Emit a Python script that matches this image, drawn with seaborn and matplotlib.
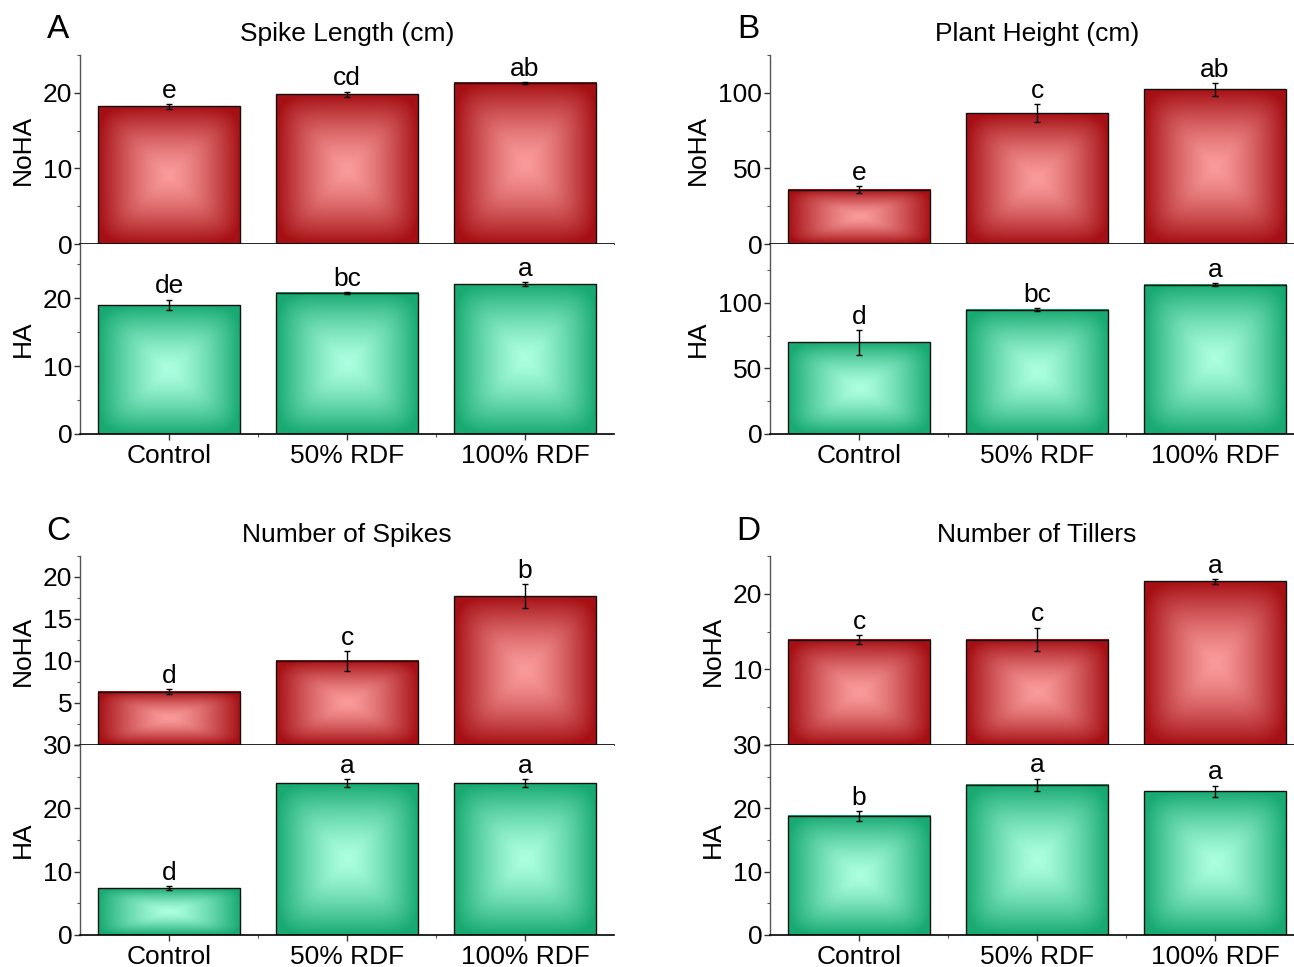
import numpy as np
import pandas as pd
import seaborn as sns
import matplotlib.pyplot as plt

# --- data ---
treatments = ['Control', '50% RDF', '100% RDF']

spike_len_noha = [18.2, 19.8, 21.3]
spike_len_noha_err = [0.3, 0.35, 0.12]
spike_len_ha = [19.0, 20.8, 22.1]
spike_len_ha_err = [0.8, 0.1, 0.25]
spike_len_noha_let = ['e', 'cd', 'ab']
spike_len_ha_let = ['de', 'bc', 'a']

height_noha = [36.0, 86.4, 102.2]
height_noha_err = [2.2, 6.0, 4.3]
height_ha = [70.0, 94.7, 114.0]
height_ha_err = [9.4, 1.1, 1.0]
height_noha_let = ['e', 'c', 'ab']
height_ha_let = ['d', 'bc', 'a']

spikes_noha = [6.35, 10.0, 17.7]
spikes_noha_err = [0.3, 1.15, 1.42]
spikes_ha = [7.4, 24.0, 24.0]
spikes_ha_err = [0.35, 0.6, 0.6]
spikes_noha_let = ['d', 'c', 'b']
spikes_ha_let = ['d', 'a', 'a']

tillers_noha = [13.95, 13.95, 21.65]
tillers_noha_err = [0.6, 1.55, 0.3]
tillers_ha = [18.8, 23.7, 22.7]
tillers_ha_err = [0.75, 0.95, 0.9]
tillers_noha_let = ['c', 'c', 'a']
tillers_ha_let = ['b', 'a', 'a']

# axis ranges and ticks
spike_len_ylims = [(0, 25), (0, 28)]
spike_len_ticks = [[0, 10, 20], [0, 10, 20]]
spike_len_minor = [[5, 15, 25], [5, 15, 25]]
height_ylims = [(0, 125), (0, 145)]
height_ticks = [[0, 50, 100], [0, 50, 100]]
height_minor = [[25, 75, 125], [25, 75, 125]]
spikes_ylims = [(0, 22.5), (0, 30)]
spikes_ticks = [[0, 5, 10, 15, 20], [0, 10, 20, 30]]
spikes_minor = [[2.5, 7.5, 12.5, 17.5, 22.5], [5, 15, 25]]
tillers_ylims = [(0, 25), (0, 30)]
tillers_ticks = [[0, 10, 20], [0, 10, 20, 30]]
tillers_minor = [[5, 15, 25], [5, 15, 25]]

RED_EDGE = np.array([166, 16, 20]) / 255
RED_MID = np.array([250, 155, 155]) / 255
GREEN_EDGE = np.array([24, 170, 114]) / 255
GREEN_MID = np.array([172, 255, 224]) / 255

sns.set_style('ticks')
plt.rcParams['font.family'] = ['Liberation Sans', 'DejaVu Sans']
plt.rcParams['font.size'] = 19
for k in ['text.color', 'axes.labelcolor', 'xtick.color', 'ytick.color']:
    plt.rcParams[k] = 'black'

W, H = 1294, 967
fig = plt.figure(figsize=(W / 100, H / 100), dpi=100)


def px_axes(x0, y_top, x1, y_bot):
    return fig.add_axes([x0 / W, 1 - y_bot / H, (x1 - x0) / W, (y_bot - y_top) / H])


def gradient_fill(ax, edge, mid):
    # rectangular "pyramid" shading: dark rim, light centre
    g = np.linspace(-1, 1, 240)
    u, v = np.meshgrid(g, g)
    t = (np.abs(u) ** 6 + np.abs(v) ** 6) ** (1 / 6)
    t = np.clip(t, 0, 1) ** 1.4
    img = mid + (edge - mid) * t[..., None]
    for p in ax.patches:
        x0, w, h = p.get_x(), p.get_width(), p.get_height()
        ax.imshow(img, extent=[x0, x0 + w, 0, h], aspect='auto',
                  interpolation='bilinear', zorder=0.9)
        p.set_facecolor('none')
        p.set_zorder(1.5)


def bar_panel(ax, vals, errs, letters, edge, mid, ylim, ticks, minor, bottom):
    df = pd.DataFrame({'treatment': treatments, 'value': vals})
    sns.barplot(data=df, x='treatment', y='value', color=edge, width=0.8,
                edgecolor='#111111', linewidth=1.0, errorbar=None, ax=ax)
    gradient_fill(ax, edge, mid)
    ax.errorbar(range(len(vals)), vals, yerr=errs, fmt='none', ecolor='black',
                elinewidth=1.0, capsize=2.5, capthick=1.0, zorder=3)
    for i, (v, e, s) in enumerate(zip(vals, errs, letters)):
        ax.annotate(s, (i, v + e), xytext=(0, 1), textcoords='offset points',
                    ha='center', va='bottom', fontsize=19)
    ax.set_xlim(-0.5, 2.5)
    ax.set_ylim(*ylim)
    ax.set_yticks(ticks)
    ax.set_yticks(minor, minor=True)
    ax.set_ylabel('')
    ax.set_xlabel('')
    ax.spines[['top', 'right']].set_visible(False)
    ax.spines['left'].set_color('#555555')
    ax.spines['bottom'].set_color('black')
    ax.spines['left'].set_linewidth(1.0)
    ax.spines['bottom'].set_linewidth(1.2)
    ax.tick_params(axis='y', which='major', length=4, width=1, pad=1.5,
                   labelsize=19, color='#333333')
    ax.tick_params(axis='y', which='minor', length=2.5, width=0.8, color='#555555')
    if bottom:
        ax.set_xticks([0.5, 1.5], minor=True)
        ax.tick_params(axis='x', which='major', length=4, width=1, pad=3,
                       labelsize=19, color='#333333')
        ax.tick_params(axis='x', which='minor', length=2.5, width=0.8, color='#555555')
    else:
        ax.tick_params(axis='x', which='both', length=0, labelbottom=False)


def panel(x0, y0, letter, title, noha, ha, ylims, ticks, minor):
    x1 = x0 + 534
    top = px_axes(x0, y0, x1, y0 + 189)
    bot = px_axes(x0, y0 + 189, x1, y0 + 379)
    bar_panel(top, *noha, RED_EDGE, RED_MID, ylims[0], ticks[0], minor[0], False)
    bar_panel(bot, *ha, GREEN_EDGE, GREEN_MID, ylims[1], ticks[1], minor[1], True)
    if ticks[1][-1] == ylims[1][1]:
        # the lower panel's top label sits where the upper panel's "0" is
        top.set_yticklabels([''] + [str(t) for t in ticks[0][1:]])
    bot.spines['top'].set_visible(False)
    top.set_ylabel('NoHA', fontsize=19, labelpad=6)
    bot.set_ylabel('HA', fontsize=19, labelpad=6)
    fig.align_ylabels([top, bot])
    fig.text((x0 + 267) / W, 1 - (y0 - 21) / H, title, ha='center', va='center', fontsize=19)
    fig.text((x0 - 22) / W, 1 - (y0 - 25) / H, letter, ha='center', va='center', fontsize=24)


panel(80, 55, 'A', 'Spike Length (cm)',
      (spike_len_noha, spike_len_noha_err, spike_len_noha_let),
      (spike_len_ha, spike_len_ha_err, spike_len_ha_let),
      spike_len_ylims, spike_len_ticks, spike_len_minor)
panel(770, 55, 'B', 'Plant Height (cm)',
      (height_noha, height_noha_err, height_noha_let),
      (height_ha, height_ha_err, height_ha_let),
      height_ylims, height_ticks, height_minor)
panel(80, 556, 'C', 'Number of Spikes',
      (spikes_noha, spikes_noha_err, spikes_noha_let),
      (spikes_ha, spikes_ha_err, spikes_ha_let),
      spikes_ylims, spikes_ticks, spikes_minor)
panel(770, 556, 'D', 'Number of Tillers',
      (tillers_noha, tillers_noha_err, tillers_noha_let),
      (tillers_ha, tillers_ha_err, tillers_ha_let),
      tillers_ylims, tillers_ticks, tillers_minor)

fig.savefig('out.png', dpi=100)
